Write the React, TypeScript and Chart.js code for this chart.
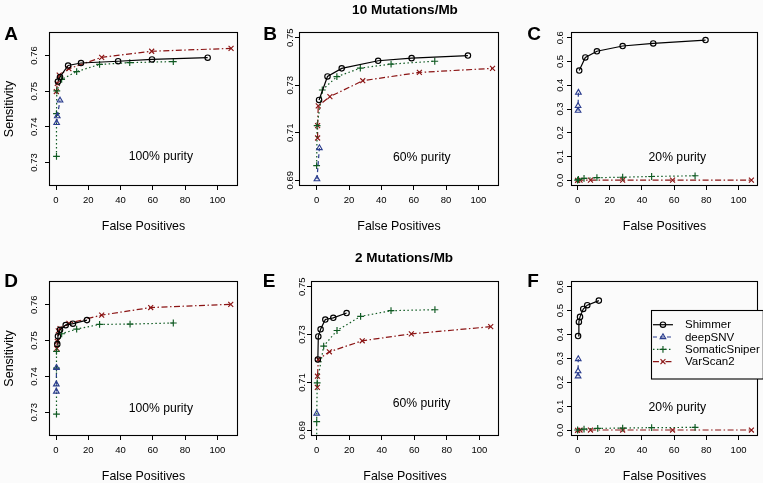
import React, { useEffect, useRef } from 'react';
import { Chart, registerables } from 'chart.js';

Chart.register(...registerables);

type Pt = [number, number];

// ---------------- data ----------------
const seriesNames = ['Shimmer', 'deepSNV', 'SomaticSniper', 'VarScan2'];

const xTickValues = [0, 20, 40, 60, 80, 100];
const xTickLabels = ['0', '20', '40', '60', '80', '100'];
const yTickValuesHigh = [0.73, 0.74, 0.75, 0.76];
const yTickLabelsHigh = ['0.73', '0.74', '0.75', '0.76'];
const yTickValuesMid = [0.69, 0.71, 0.73, 0.75];
const yTickLabelsMid = ['0.69', '0.71', '0.73', '0.75'];
const yTickValuesLow = [0, 0.1, 0.2, 0.3, 0.4, 0.5, 0.6];
const yTickLabelsLow = ['0.0', '0.1', '0.2', '0.3', '0.4', '0.5', '0.6'];

// A: 10 Mutations/Mb, 100% purity
const shimmerA: Pt[] = [[1.2, 0.7527], [2.5, 0.754], [7.5, 0.7572], [15.5, 0.7579], [38.5, 0.7584], [59.5, 0.7589], [94, 0.7594]];
const deepSNVA: Pt[] = [[0.4, 0.7411], [0.8, 0.743], [2.5, 0.7474]];
const sniperA: Pt[] = [[0.3, 0.7317], [0.3, 0.7437], [0.5, 0.7501], [3.5, 0.7533], [12.8, 0.7555], [27, 0.7575], [45.7, 0.758], [72.7, 0.7583]];
const varscanA: Pt[] = [[0.2, 0.7499], [0.8, 0.7522], [2, 0.7545], [8, 0.7563], [28.3, 0.7595], [59.3, 0.7612], [108.5, 0.762]];

// B: 10 Mutations/Mb, 60% purity
const shimmerB: Pt[] = [[1.5, 0.7238], [6.7, 0.7337], [15.5, 0.7371], [38, 0.7403], [58.7, 0.7414], [93.5, 0.7425]];
const deepSNVB: Pt[] = [[0.2, 0.6905], [1.7, 0.7036]];
const sniperB: Pt[] = [[0, 0.6962], [0.3, 0.713], [3.5, 0.728], [12.5, 0.7336], [27, 0.7372], [46, 0.7389], [73, 0.7401]];
const varscanB: Pt[] = [[0.6, 0.7078], [0.6, 0.713], [1, 0.7213], [8.2, 0.7252], [28.5, 0.7319], [63.5, 0.7354], [108.7, 0.7371]];

// C: 10 Mutations/Mb, 20% purity
const shimmerC: Pt[] = [[1, 0.462], [4.8, 0.517], [12, 0.543], [28, 0.565], [47, 0.576], [79.5, 0.59]];
const deepSNVC: Pt[] = [[0.3, 0.293], [0.3, 0.313], [0.5, 0.369]];
const sniperC: Pt[] = [[0, 0.001], [0.5, 0.004], [4, 0.008], [12, 0.011], [28, 0.013], [46, 0.016], [73, 0.019]];
const varscanC: Pt[] = [[0, 0], [1.5, 0.001], [8, 0.001], [28, 0.001], [59, 0.001], [108, 0.001]];

// D: 2 Mutations/Mb, 100% purity
const shimmerD: Pt[] = [[0.8, 0.749], [1.2, 0.7512], [2.5, 0.753], [6, 0.7543], [10.5, 0.7547], [19.2, 0.7557]];
const deepSNVD: Pt[] = [[0.2, 0.7358], [0.2, 0.7378], [0.3, 0.7424]];
const sniperD: Pt[] = [[0.3, 0.7295], [0.3, 0.7423], [0.3, 0.747], [3.5, 0.7519], [12.8, 0.7532], [27, 0.7545], [45.9, 0.7546], [72.7, 0.7549]];
const varscanD: Pt[] = [[0.5, 0.7478], [0.8, 0.7498], [1.4, 0.7527], [2.5, 0.7533], [8, 0.7548], [28.3, 0.7571], [58.7, 0.7592], [108.3, 0.7601]];

// E: 2 Mutations/Mb, 60% purity
const shimmerE: Pt[] = [[0.7, 0.7196], [1, 0.7292], [2.4, 0.7322], [5.3, 0.7363], [10.2, 0.737], [18.4, 0.739]];
const deepSNVE: Pt[] = [[0, 0.697]];
const sniperE: Pt[] = [[0, 0.68], [0, 0.6936], [0.3, 0.7098], [4.3, 0.7252], [12.5, 0.7317], [27, 0.7376], [45.7, 0.74], [72.7, 0.7404]];
const varscanE: Pt[] = [[0.4, 0.7079], [0.5, 0.7126], [1, 0.7196], [7.8, 0.7228], [28, 0.7274], [58.2, 0.7303], [107, 0.7333]];

// F: 2 Mutations/Mb, 20% purity
const shimmerF: Pt[] = [[0.3, 0.394], [0.8, 0.453], [1.5, 0.474], [3.5, 0.507], [6, 0.523], [13.2, 0.542]];
const deepSNVF: Pt[] = [[0.3, 0.226], [0.3, 0.247], [0.4, 0.298]];
const sniperF: Pt[] = [[0, 0.001], [4, 0.005], [12.5, 0.008], [28, 0.009], [46, 0.011], [73, 0.012]];
const varscanF: Pt[] = [[0, 0], [1.5, 0.001], [8, 0.001], [28, 0.001], [59, 0.001], [108, 0.001]];

// ---------------- styles / layout ----------------
const FONT = '"Liberation Sans", Arial, Helvetica, sans-serif';
const BG = '#fbfbfb';
const INK = '#000';
const TICK_SIZE = 9.5;
const TICK_LEN = 4;

type MarkerStyle = 'circle' | 'triangle' | 'cross' | 'crossRot';
const seriesStyles: { color: string; dash: number[]; marker: MarkerStyle; radius: number }[] = [
  { color: '#000000', dash: [], marker: 'circle', radius: 2.7 },
  { color: '#2b3d8e', dash: [4, 3], marker: 'triangle', radius: 3.2 },
  { color: '#0f5a22', dash: [1.5, 2.5], marker: 'cross', radius: 3.4 },
  { color: '#8b1414', dash: [6, 2.5, 1.5, 2.5], marker: 'crossRot', radius: 3.5 },
];

interface PanelCfg {
  letter: string;
  box: { l: number; t: number; r: number; b: number };
  xMin: number; xMax: number; yMin: number; yMax: number;
  yTicks: number[]; yLabels: string[];
  yTitle: boolean;
  labelGap: number;
  purity: string; purityAt: [number, number];
  series: Pt[][];
  legendAt?: [number, number];
}

const panels: PanelCfg[] = [
  { letter: 'A', box: { l: 49, t: 32, r: 238, b: 186 }, xMin: -4.34, xMax: 112.8, yMin: 0.7234, yMax: 0.7666,
    yTicks: yTickValuesHigh, yLabels: yTickLabelsHigh, yTitle: true, labelGap: 15,
    purity: '100% purity', purityAt: [65, 0.7317], series: [shimmerA, deepSNVA, sniperA, varscanA] },
  { letter: 'B', box: { l: 299, t: 32, r: 499, b: 186 }, xMin: -10.9, xMax: 112.7, yMin: 0.6876, yMax: 0.7524,
    yTicks: yTickValuesMid, yLabels: yTickLabelsMid, yTitle: false, labelGap: 9,
    purity: '60% purity', purityAt: [65, 0.6996], series: [shimmerB, deepSNVB, sniperB, varscanB] },
  { letter: 'C', box: { l: 571, t: 32, r: 758, b: 186 }, xMin: -4.1, xMax: 112.1, yMin: -0.024, yMax: 0.624,
    yTicks: yTickValuesLow, yLabels: yTickLabelsLow, yTitle: false, labelGap: 10.5,
    purity: '20% purity', purityAt: [62, 0.097], series: [shimmerC, deepSNVC, sniperC, varscanC] },
  { letter: 'D', box: { l: 49, t: 281, r: 238, b: 436 }, xMin: -4.34, xMax: 112.8, yMin: 0.7234, yMax: 0.7666,
    yTicks: yTickValuesHigh, yLabels: yTickLabelsHigh, yTitle: true, labelGap: 15,
    purity: '100% purity', purityAt: [65, 0.731], series: [shimmerD, deepSNVD, sniperD, varscanD] },
  { letter: 'E', box: { l: 311, t: 281, r: 499, b: 436 }, xMin: -3.5, xMax: 112.1, yMin: 0.6876, yMax: 0.7524,
    yTicks: yTickValuesMid, yLabels: yTickLabelsMid, yTitle: false, labelGap: 9,
    purity: '60% purity', purityAt: [64.5, 0.7011], series: [shimmerE, deepSNVE, sniperE, varscanE] },
  { letter: 'F', box: { l: 571, t: 281, r: 758, b: 436 }, xMin: -4.1, xMax: 112.1, yMin: -0.024, yMax: 0.624,
    yTicks: yTickValuesLow, yLabels: yTickLabelsLow, yTitle: false, labelGap: 10.5,
    purity: '20% purity', purityAt: [62, 0.094], series: [shimmerF, deepSNVF, sniperF, varscanF], legendAt: [45.4, 0.501] },
];

const letterPos: Record<string, [number, number]> = {
  A: [11, 33], B: [270, 33], C: [534, 33], D: [11, 280], E: [269, 280], F: [533, 280],
};

function drawMarker(ctx: CanvasRenderingContext2D, m: MarkerStyle, x: number, y: number, r: number) {
  ctx.beginPath();
  if (m === 'circle') {
    ctx.arc(x, y, r, 0, Math.PI * 2);
  } else if (m === 'triangle') {
    let a = 0;
    ctx.moveTo(x + Math.sin(a) * r, y - Math.cos(a) * r);
    a += (2 * Math.PI) / 3;
    ctx.lineTo(x + Math.sin(a) * r, y - Math.cos(a) * r);
    a += (2 * Math.PI) / 3;
    ctx.lineTo(x + Math.sin(a) * r, y - Math.cos(a) * r);
    ctx.closePath();
  } else if (m === 'cross') {
    ctx.moveTo(x, y - r); ctx.lineTo(x, y + r);
    ctx.moveTo(x - r, y); ctx.lineTo(x + r, y);
  } else {
    const o = r * Math.SQRT1_2;
    ctx.moveTo(x - o, y - o); ctx.lineTo(x + o, y + o);
    ctx.moveTo(x - o, y + o); ctx.lineTo(x + o, y - o);
  }
  ctx.stroke();
}

function PanelChart({ cfg }: { cfg: PanelCfg }) {
  const canvasRef = useRef<HTMLCanvasElement | null>(null);
  const padL = cfg.yTitle ? cfg.box.l : 32;
  const padT = 14, padR = 8, padB = 50;
  const left = cfg.box.l - padL;
  const top = cfg.box.t - padT;
  const width = cfg.box.r - cfg.box.l + padL + padR;
  const height = cfg.box.b - cfg.box.t + padT + padB;

  useEffect(() => {
    const canvas = canvasRef.current;
    if (!canvas) return;
    const mctx = document.createElement('canvas').getContext('2d')!;
    mctx.font = `${TICK_SIZE}px ${FONT}`;
    const widest = Math.max(...cfg.yLabels.map((s) => mctx.measureText(s).width));
    const yPad = cfg.labelGap - TICK_LEN - widest / 2;

    const datasets = cfg.series.map((pts, i) => {
      const st = seriesStyles[i];
      return {
        label: seriesNames[i],
        data: pts.map(([x, y]) => ({ x, y })),
        borderColor: st.color,
        backgroundColor: st.color,
        borderWidth: 1.2,
        borderDash: st.dash,
        pointStyle: st.marker,
        pointRadius: st.radius,
        pointHoverRadius: st.radius,
        pointBorderColor: st.color,
        pointBackgroundColor: 'rgba(0,0,0,0)',
        pointBorderWidth: 1.15,
        tension: 0,
        fill: false,
        showLine: true,
      };
    });

    const boxPlugin = {
      id: 'box',
      afterDatasetsDraw(chart: any) {
        const { ctx, chartArea: a } = chart;
        ctx.save();
        ctx.strokeStyle = '#000';
        ctx.lineWidth = 1.1;
        ctx.setLineDash([]);
        ctx.strokeRect(Math.round(a.left) + 0.5, Math.round(a.top) + 0.5, Math.round(a.right - a.left) - 1, Math.round(a.bottom - a.top) - 1);
        const xs = chart.scales.x, ys = chart.scales.y;
        ctx.fillStyle = INK;
        ctx.font = `12.2px ${FONT}`;
        ctx.textAlign = 'center';
        ctx.textBaseline = 'middle';
        ctx.fillText(cfg.purity, xs.getPixelForValue(cfg.purityAt[0]), ys.getPixelForValue(cfg.purityAt[1]));
        if (cfg.legendAt) {
          const lx = xs.getPixelForValue(cfg.legendAt[0]);
          const ly = ys.getPixelForValue(cfg.legendAt[1]);
          ctx.font = `11.5px ${FONT}`;
          const tw = Math.max(...seriesNames.map((s) => ctx.measureText(s).width));
          const w = 34 + tw + 3;
          const h = 68.5;
          ctx.fillStyle = BG;
          ctx.fillRect(Math.round(lx) + 0.5, Math.round(ly) + 0.5, w, h);
          ctx.strokeStyle = '#000';
          ctx.lineWidth = 1.1;
          ctx.strokeRect(Math.round(lx) + 0.5, Math.round(ly) + 0.5, w, h);
          seriesNames.forEach((name, i) => {
            const st = seriesStyles[i];
            const yy = ly + 14.3 + i * 12.3;
            ctx.strokeStyle = st.color;
            ctx.lineWidth = 1.2;
            ctx.setLineDash(st.dash);
            ctx.beginPath();
            ctx.moveTo(lx + 2.3, yy);
            ctx.lineTo(lx + 22.3, yy);
            ctx.stroke();
            ctx.setLineDash([]);
            ctx.lineWidth = 1.15;
            drawMarker(ctx, st.marker, lx + 12.3, yy, st.radius);
            ctx.fillStyle = INK;
            ctx.textAlign = 'left';
            ctx.textBaseline = 'middle';
            ctx.fillText(name, lx + 34.3, yy + 0.5);
          });
        }
        ctx.restore();
      },
    };

    const chart = new Chart(canvas, {
      type: 'line',
      data: { datasets: datasets as any },
      options: {
        animation: false,
        responsive: false,
        events: [],
        layout: { padding: { top: padT, right: padR, left: 0, bottom: 0 } },
        plugins: { legend: { display: false }, tooltip: { enabled: false } },
        scales: {
          x: {
            type: 'linear',
            min: cfg.xMin,
            max: cfg.xMax,
            afterBuildTicks: (s: any) => { s.ticks = xTickValues.map((v) => ({ value: v })); },
            afterFit: (s: any) => { s.height = padB; },
            ticks: {
              autoSkip: false,
              maxRotation: 0,
              minRotation: 0,
              padding: 5,
              color: INK,
              font: { family: FONT, size: TICK_SIZE },
              callback: (_v: any, i: number) => xTickLabels[i],
            },
            grid: { drawOnChartArea: false, drawTicks: true, tickLength: TICK_LEN, color: '#000', lineWidth: 1 },
            border: { display: false },
            title: {
              display: true,
              text: 'False Positives',
              color: INK,
              font: { family: FONT, size: 12.4 },
              padding: { top: 0, bottom: 2 },
            },
          },
          y: {
            type: 'linear',
            min: cfg.yMin,
            max: cfg.yMax,
            afterBuildTicks: (s: any) => { s.ticks = cfg.yTicks.map((v) => ({ value: v })); },
            afterFit: (s: any) => { s.width = padL; },
            ticks: {
              autoSkip: false,
              minRotation: 90,
              maxRotation: 90,
              crossAlign: 'center',
              padding: yPad,
              color: INK,
              font: { family: FONT, size: TICK_SIZE },
              callback: (_v: any, i: number) => cfg.yLabels[i],
            },
            grid: { drawOnChartArea: false, drawTicks: true, tickLength: TICK_LEN, color: '#000', lineWidth: 1 },
            border: { display: false },
            title: {
              display: cfg.yTitle,
              text: 'Sensitivity',
              color: INK,
              font: { family: FONT, size: 12.5 },
              padding: { top: 2, bottom: 0 },
            },
          },
        },
      } as any,
      plugins: [boxPlugin],
    });
    return () => chart.destroy();
  }, [cfg]);

  return (
    <div style={{ position: 'absolute', left, top, width, height }}>
      <canvas ref={canvasRef} width={width} height={height} style={{ width, height, display: 'block' }} />
    </div>
  );
}

export default function App() {
  const textBase: React.CSSProperties = {
    position: 'absolute',
    transform: 'translate(-50%, -50%)',
    fontFamily: FONT,
    fontWeight: 'bold',
    color: INK,
    whiteSpace: 'nowrap',
  };
  return (
    <div style={{ position: 'fixed', left: 0, top: 0, width: 763, height: 483, overflow: 'hidden', background: BG }}>
      {panels.map((p) => (
        <PanelChart key={p.letter} cfg={p} />
      ))}
      {panels.map((p) => (
        <div key={'l' + p.letter} style={{ ...textBase, left: letterPos[p.letter][0], top: letterPos[p.letter][1], fontSize: 19, lineHeight: '19px' }}>
          {p.letter}
        </div>
      ))}
      <div style={{ ...textBase, left: 405, top: 10, fontSize: 13.5, lineHeight: '14px' }}>10 Mutations/Mb</div>
      <div style={{ ...textBase, left: 404, top: 258, fontSize: 13.5, lineHeight: '14px' }}>2 Mutations/Mb</div>
    </div>
  );
}
